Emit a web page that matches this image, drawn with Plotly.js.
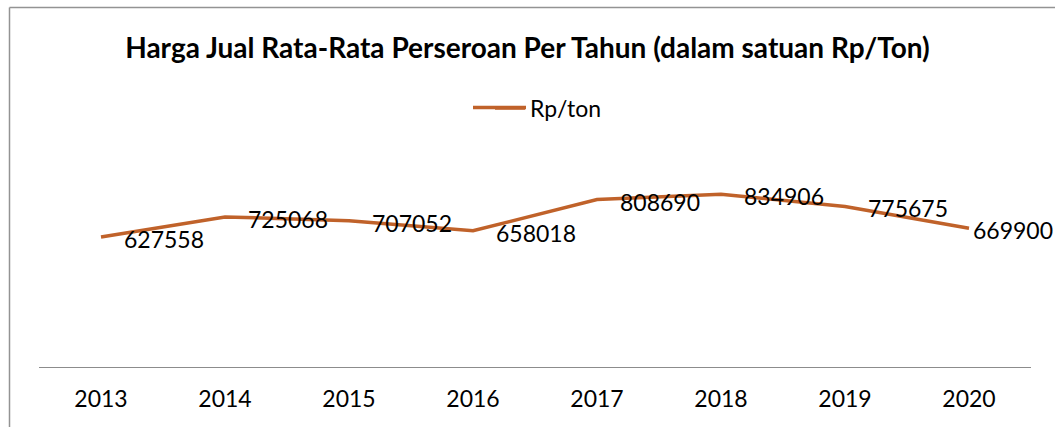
<!DOCTYPE html>
<html>
<head>
<meta charset="utf-8">
<script src="https://cdn.plot.ly/plotly-3.0.1.min.js"></script>
<style>html,body{margin:0;padding:0;background:#fff;}#chart{width:1055px;height:427px;}</style>
</head>
<body>
<div id="chart"></div>
<script>
const years = ['2013','2014','2015','2016','2017','2018','2019','2020'];
const prices = [627558, 725068, 707052, 658018, 808690, 834906, 775675, 669900];
const seriesName = 'Rp/ton';
const chartTitle = 'Harga Jual Rata-Rata Perseroan Per Tahun (dalam satuan Rp/Ton)';

const lineColor = '#C0622A';
const FONT = 'Lato, "Open Sans", sans-serif';

const annotations = years.map((y, i) => ({
  x: i, y: prices[i], xref: 'x', yref: 'y',
  text: String(prices[i]), showarrow: false,
  xanchor: 'left', yanchor: 'middle', xshift: i === years.length - 1 ? 2 : 21, yshift: -2,
  font: {family: FONT, size: 23, color: '#000'}
}));

const W = 1055, H = 427, L = 39, R = 24, T = 160, B = 60;
const pw = W - L - R, ph = H - T - B;
const px = v => (v - L) / pw;
const py = v => (H - B - v) / ph;

const shapes = [
  {type: 'line', xref: 'paper', yref: 'paper', x0: px(9.5), x1: px(9.5), y0: py(7.5), y1: py(430), line: {color: '#939393', width: 1.5}},
  {type: 'line', xref: 'paper', yref: 'paper', x0: px(9.5), x1: px(1060), y0: py(7.5), y1: py(7.5), line: {color: '#939393', width: 1.5}},
  {type: 'line', layer: 'above', xref: 'paper', yref: 'paper', x0: px(473), x1: px(526), y0: py(107.5), y1: py(107.5), line: {color: lineColor, width: 3.5}}
];

Plotly.newPlot('chart', [{
  x: years, y: prices, type: 'scatter', mode: 'lines', name: seriesName,
  line: {color: lineColor, width: 3.5}, hoverinfo: 'x+y'
}], {
  width: W, height: H,
  margin: {l: L, r: R, t: T, b: B},
  paper_bgcolor: '#fff', plot_bgcolor: '#fff',
  title: {text: '<b>' + chartTitle + '</b>', font: {family: FONT, size: 28, color: '#000'}, x: 0.5, xanchor: 'center', y: 1 - 48 / H, yanchor: 'middle'},
  showlegend: true,
  legend: {orientation: 'h', x: px(490), xanchor: 'left', y: py(108), yanchor: 'middle', font: {family: FONT, size: 23, color: '#000'}, bgcolor: 'rgba(0,0,0,0)'},
  xaxis: {type: 'category', categoryarray: years, categoryorder: 'array', range: [-0.5, 7.5], autorange: false,
          showline: true, linecolor: '#8c8c8c', linewidth: 1, showgrid: false, zeroline: false,
          ticks: '', tickfont: {family: FONT, size: 23, color: '#000'}, ticklabelstandoff: 11, fixedrange: true},
  yaxis: {range: [0, 1000000], autorange: false, visible: false, showgrid: false, zeroline: false, fixedrange: true},
  annotations: annotations,
  shapes: shapes
}, {displayModeBar: false, staticPlot: true});
</script>
</body>
</html>
